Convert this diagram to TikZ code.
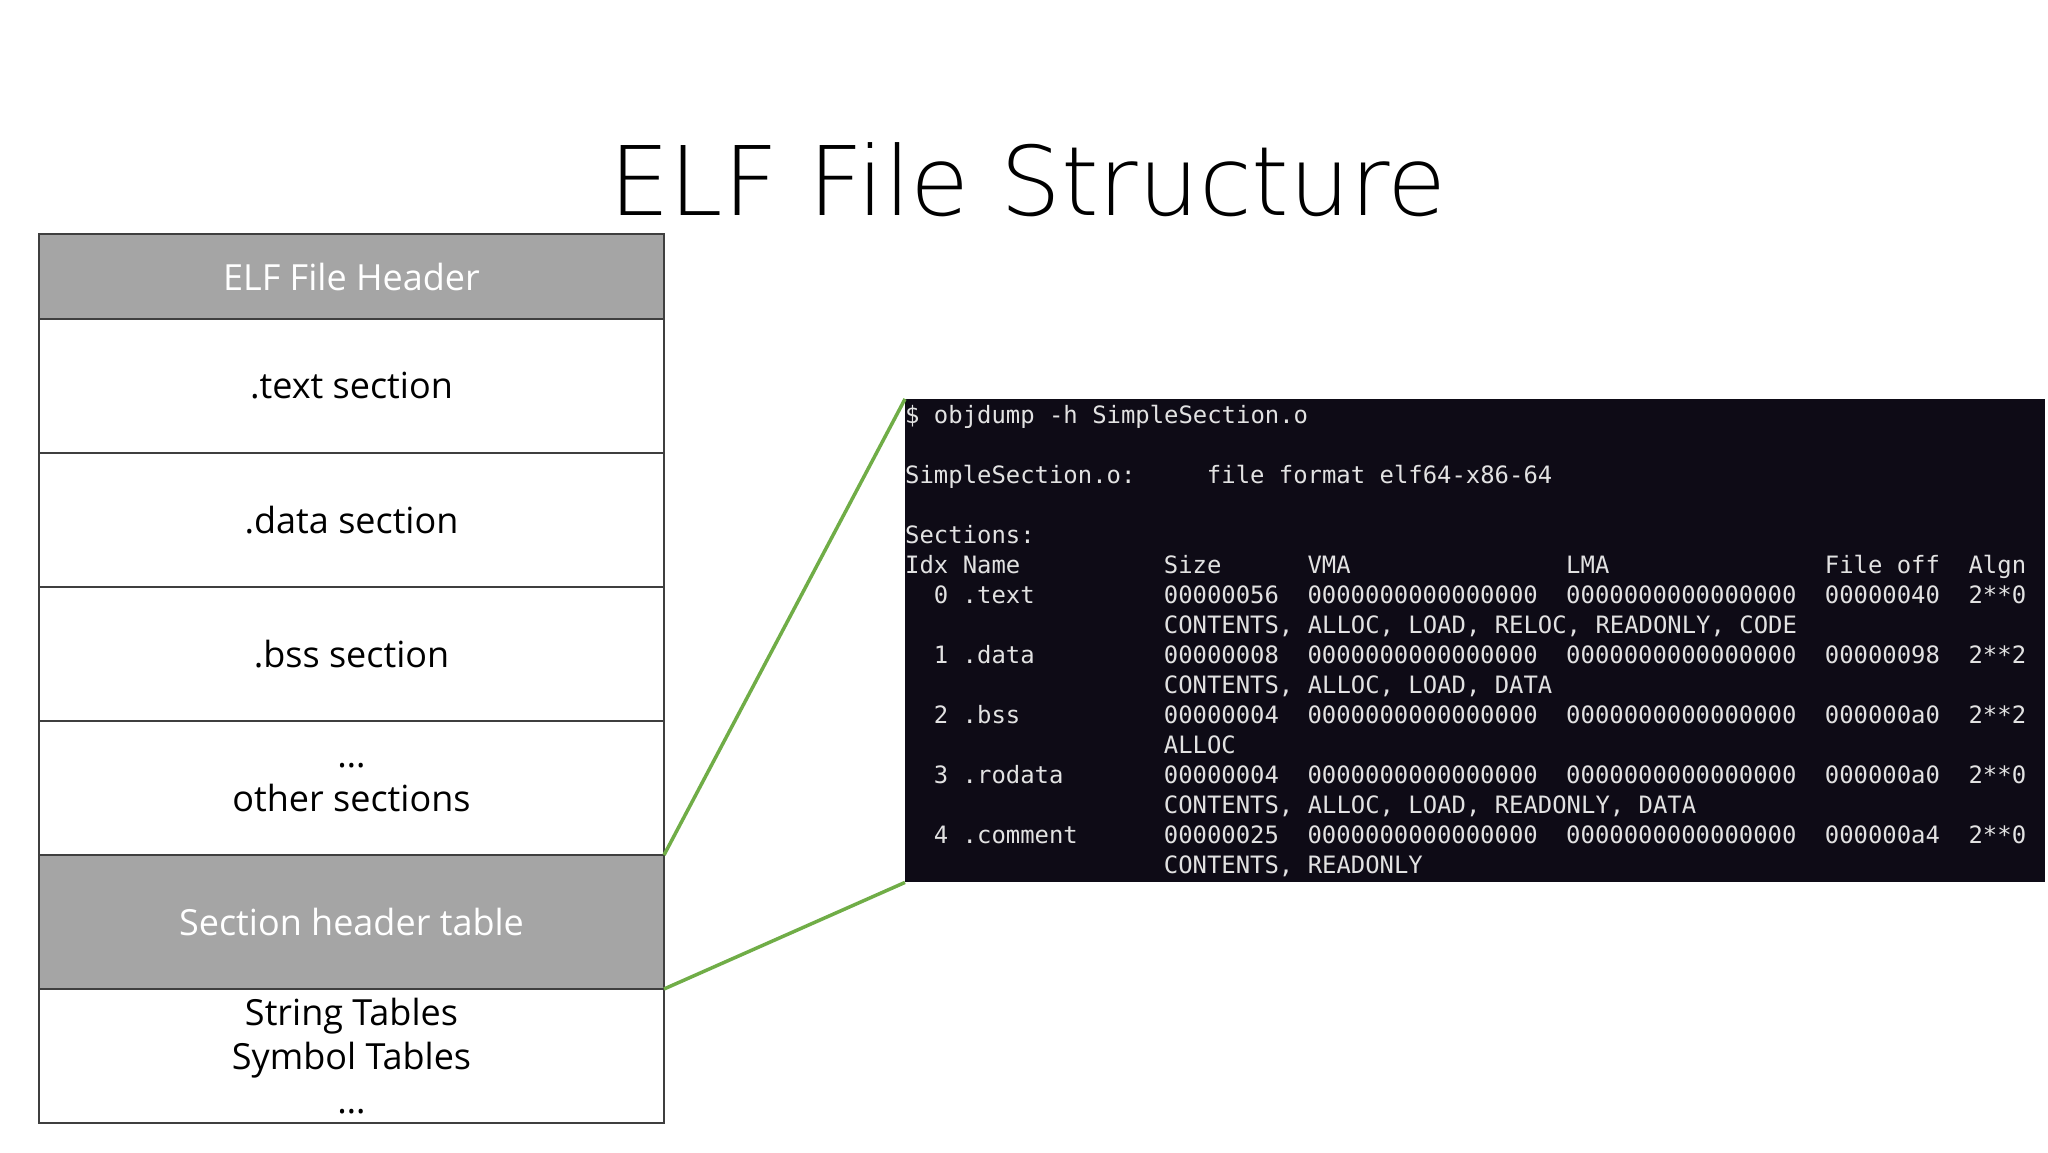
\documentclass[tikz,border=0pt]{standalone}
\usepackage{fontspec}
\setmainfont{Open Sans}
\newfontfamily\titlefont{DejaVu Sans ExtraLight}
\newfontfamily\termfont{DejaVu Sans Mono}
\definecolor{hdr}{HTML}{A5A5A5}
\definecolor{bord}{HTML}{3F3F3F}
\definecolor{term}{HTML}{0E0B16}
\definecolor{ttxt}{HTML}{E2E2E2}
\definecolor{grn}{HTML}{70AD47}
\begin{document}
\begin{tikzpicture}[x=1pt,y=-1pt,
  cell/.style={draw=bord,line width=2pt,fill=white,minimum width=625pt,inner sep=0pt,align=center,
    font=\fontsize{36}{44}\selectfont,text=black},
  hcell/.style={cell,fill=hdr,text=white},
  tt/.style={anchor=base west,inner sep=0pt,text=ttxt,font=\termfont\fontsize{23.9}{30}\selectfont},
  link/.style={draw=grn,line width=3.5pt}]
\useasboundingbox[fill=white] (0,0) rectangle (2048,1152);
\node[font=\titlefont\fontsize{96}{110}\selectfont] (title) at (1028,180) {ELF File Structure};
\node[hcell,minimum height=85pt] (h) at (351.5,276.5) {ELF File Header};
\node[cell,minimum height=134pt] (txt) at (351.5,386) {.text section};
\node[cell,minimum height=134pt] (dat) at (351.5,520) {.data section};
\node[cell,minimum height=134pt] (bss) at (351.5,654) {.bss section};
\node[cell,minimum height=134pt] (oth) at (351.5,788) {\dots\\other sections};
\node[hcell,minimum height=134pt] (sht) at (351.5,922) {Section header table};
\node[cell,minimum height=134pt] (str) at (351.5,1056) {String Tables\\Symbol Tables\\\dots};
\node[fill=term,inner sep=0pt,minimum width=1140pt,minimum height=483pt,anchor=north west] (t) at (905,399) {};
\coordinate (a1) at (664,855); \coordinate (a2) at (664,989);
\draw[link] (a1) -- (t.north west);
\draw[link] (a2) -- (t.south west);
\def\cx#1{905+#1*14.37}
\def\ry#1{423+#1*30.06}
\node[tt] (l0) at (\cx{0},\ry{0}) {\$ objdump -h SimpleSection.o};
\node[tt] (l2a) at (\cx{0},\ry{2}) {SimpleSection.o:};
\node[tt] (l2b) at (\cx{21},\ry{2}) {file format elf64-x86-64};
\node[tt] (l4) at (\cx{0},\ry{4}) {Sections:};
\foreach \c/\s [count=\i] in {0/Idx Name,18/Size,28/VMA,46/LMA,64/File off,74/Algn}
  \node[tt] (hd\i) at (\cx{\c},\ry{5}) {\s};
\foreach \r/\n/\sz/\fo/\al/\fl [count=\i] in {
  6/0 .text/00000056/00000040/2**0/{CONTENTS, ALLOC, LOAD, RELOC, READONLY, CODE},
  8/1 .data/00000008/00000098/2**2/{CONTENTS, ALLOC, LOAD, DATA},
  10/2 .bss/00000004/000000a0/2**2/ALLOC,
  12/3 .rodata/00000004/000000a0/2**0/{CONTENTS, ALLOC, LOAD, READONLY, DATA},
  14/4 .comment/00000025/000000a4/2**0/{CONTENTS, READONLY}}{
  \node[tt] (n\i) at (\cx{2},\ry{\r}) {\n};
  \node[tt] (s\i) at (\cx{18},\ry{\r}) {\sz};
  \node[tt] (v\i) at (\cx{28},\ry{\r}) {0000000000000000};
  \node[tt] (m\i) at (\cx{46},\ry{\r}) {0000000000000000};
  \node[tt] (o\i) at (\cx{64},\ry{\r}) {\fo};
  \node[tt] (g\i) at (\cx{74},\ry{\r}) {\al};
  \pgfmathtruncatemacro\rr{\r+1}
  \node[tt] (f\i) at (\cx{18},\ry{\rr}) {\fl};
}
\end{tikzpicture}
\end{document}
